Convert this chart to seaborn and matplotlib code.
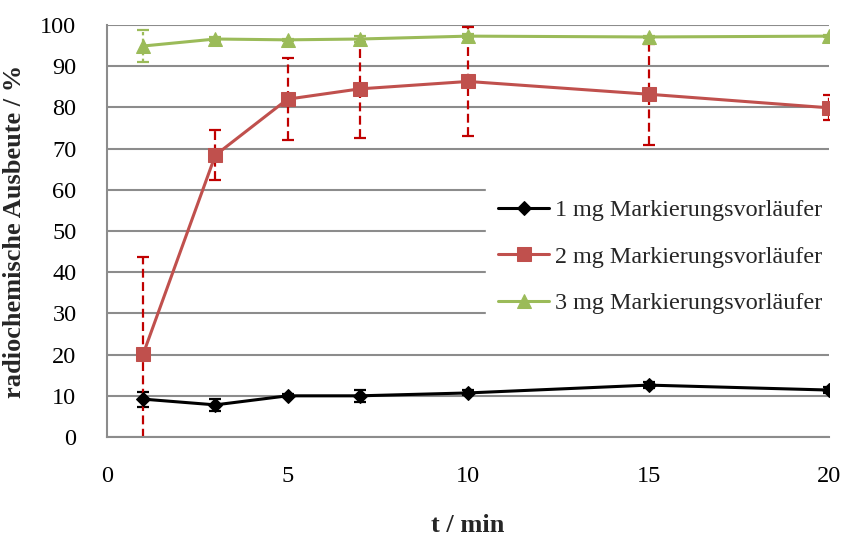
import matplotlib
matplotlib.use("Agg")
import matplotlib.pyplot as plt
import seaborn as sns
import pandas as pd

# Reaktionszeit (min) und radiochemische Ausbeute (%) mit Standardabweichung
t_min = [1, 3, 5, 7, 10, 15, 20]

rcy_1mg = [9.2, 7.8, 10.0, 10.0, 10.7, 12.6, 11.4]
err_1mg = [1.8, 1.5, 0.4, 1.5, 0.6, 0.7, 0.8]

rcy_2mg = [20.1, 68.4, 82.0, 84.5, 86.3, 83.2, 79.9]
err_2mg = [23.6, 6.0, 10.0, 12.0, 13.2, 12.3, 3.0]

rcy_3mg = [94.9, 96.6, 96.4, 96.6, 97.3, 97.1, 97.3]
err_3mg = [3.8, 0.5, 0.3, 0.8, 0.5, 0.3, 0.3]

labels = ["1 mg Markierungsvorläufer",
          "2 mg Markierungsvorläufer",
          "3 mg Markierungsvorläufer"]

sns.set_theme(style="white")
plt.rcParams["font.family"] = ["Liberation Serif", "DejaVu Serif"]

df = pd.DataFrame({
    "t": t_min * 3,
    "rcy": rcy_1mg + rcy_2mg + rcy_3mg,
    "err": err_1mg + err_2mg + err_3mg,
    "serie": [labels[0]] * 7 + [labels[1]] * 7 + [labels[2]] * 7,
})

line_colors = {labels[0]: "#000000", labels[1]: "#C0504D", labels[2]: "#9BBB59"}
err_colors = {labels[0]: "#000000", labels[1]: "#C00000", labels[2]: "#9BBB59"}
err_styles = {labels[0]: "-", labels[1]: (0, (4, 2)), labels[2]: (0, (1.5, 1.5))}
markers = {labels[0]: "D", labels[1]: "s", labels[2]: "^"}
msizes = {labels[0]: 7, labels[1]: 10, labels[2]: 10}

fig = plt.figure(figsize=(8.46, 5.39), dpi=100)
ax = fig.add_axes([0.1265, 0.1892, 0.8535, 0.7644])

for lab in labels:
    sub = df[df["serie"] == lab]
    eb = ax.errorbar(sub["t"], sub["rcy"], yerr=sub["err"], fmt="none",
                     ecolor=err_colors[lab], elinewidth=1.6, capsize=4.5,
                     capthick=1.6, zorder=2)
    for coll in eb[2]:
        coll.set_linestyle(err_styles[lab])

for lab in labels:
    sub = df[df["serie"] == lab]
    sns.lineplot(data=sub, x="t", y="rcy", ax=ax, color=line_colors[lab],
                 marker=markers[lab], markersize=msizes[lab],
                 markeredgecolor=line_colors[lab], linewidth=2.2,
                 label=lab, zorder=3)

ax.set_xlim(0, 20)
ax.set_ylim(0, 100)
ax.set_xticks([0, 5, 10, 15, 20])
ax.set_yticks(range(0, 101, 10))
ax.yaxis.grid(True, color="#8C8C8C", linewidth=1.5)
ax.xaxis.grid(False)
ax.set_axisbelow(True)
for side in ["top", "right"]:
    ax.spines[side].set_visible(False)
for side in ["left", "bottom"]:
    ax.spines[side].set_color("#8C8C8C")
    ax.spines[side].set_linewidth(1.5)
ax.tick_params(axis="both", length=0, labelsize=17.5, colors="black")
ax.tick_params(axis="x", pad=21)
ax.tick_params(axis="y", pad=22)

ax.set_xlabel("t / min", fontsize=19, fontweight="bold", labelpad=19)
ax.set_ylabel("radiochemische Ausbeute / %", fontsize=19, fontweight="bold",
              labelpad=10)

leg = ax.legend(loc="upper left", bbox_to_anchor=(0.525, 0.606), frameon=True,
                fontsize=17.4, labelspacing=1.02, handlelength=2.1,
                handletextpad=0.25, borderpad=0.5, borderaxespad=0,
                fancybox=False)
leg.get_frame().set_facecolor("white")
leg.get_frame().set_edgecolor("white")
leg.get_frame().set_alpha(1.0)

fig.savefig("out.png", dpi=100)
